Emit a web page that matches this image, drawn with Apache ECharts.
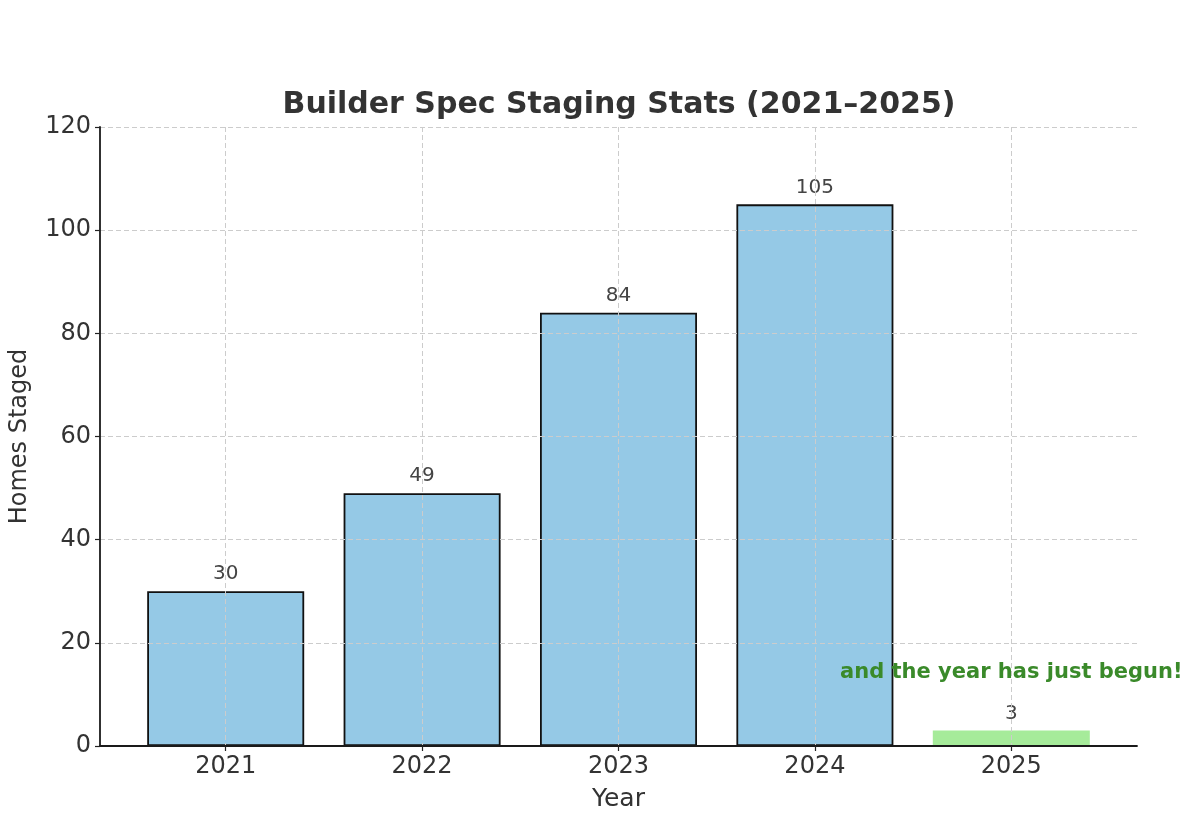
<!DOCTYPE html>
<html><head><meta charset="utf-8">
<script src="https://cdn.jsdelivr.net/npm/echarts@6/dist/echarts.min.js"></script>
<style>html,body{margin:0;padding:0;background:#fff}#c{width:1200px;height:839px}</style>
</head><body><div id="c"></div>
<script>
const years = ['2021','2022','2023','2024','2025'];
const homesStaged = [30, 49, 84, 105, 3];
const yTicks = [0, 20, 40, 60, 80, 100, 120];
const noteText = 'and the year has just begun!';
const noteYear = '2025';
const noteValue = 14.3;

const F = 'DejaVu Sans';
const idx = years.map((_, i) => i);
const chart = echarts.init(document.getElementById('c'));
chart.setOption({
  backgroundColor: '#fff',
  animation: false,
  title: {
    text: 'Builder Spec Staging Stats (2021–2025)',
    left: 614, top: 85, textAlign: 'center',
    textStyle: {fontFamily: F, fontSize: 30, fontWeight: 'bold', color: '#333'}
  },
  grid: {left: 100, right: 63, top: 127, bottom: 93},
  xAxis: {
    type: 'value', min: -0.64, max: 4.64, z: 10,
    name: 'Year', nameLocation: 'middle', nameGap: 41,
    nameTextStyle: {fontFamily: F, fontSize: 25, color: '#333'},
    axisLine: {show: true, onZero: false, lineStyle: {color: '#1a1a1a', width: 1.8}},
    axisTick: {show: true, length: 5, customValues: idx, lineStyle: {color: '#222', width: 1.2}},
    axisLabel: {customValues: idx, formatter: v => years[Math.round(v)], fontFamily: F, fontSize: 24, color: '#333', margin: 9},
    splitLine: {show: true, lineStyle: {color: '#ccc', type: [5, 3], width: 1}}
  },
  yAxis: {
    type: 'value', min: 0, max: 120, interval: 20, z: 10,
    name: 'Homes Staged', nameLocation: 'middle', nameGap: 68, nameRotate: 90,
    nameTextStyle: {fontFamily: F, fontSize: 24, color: '#333'},
    axisLine: {show: true, onZero: false, lineStyle: {color: '#1a1a1a', width: 1.8}},
    axisTick: {show: true, length: 5, lineStyle: {color: '#222', width: 1.2}},
    axisLabel: {fontFamily: F, fontSize: 24, color: '#333', margin: 9,
      formatter: v => yTicks.includes(v) ? String(v) : ''},
    splitLine: {show: true, lineStyle: {color: '#ccc', type: [5, 3], width: 1}}
  },
  series: [{
    type: 'bar',
    barWidth: 157,
    z: 2,
    data: homesStaged.map((v, i) => {
      const last = i === years.length - 1;
      return {
        value: [i, v],
        itemStyle: last ? {color: '#a6eb9a', borderWidth: 0}
                        : {color: '#95c9e6', borderColor: '#111', borderWidth: 1.8}
      };
    }),
    label: {show: true, position: 'top', distance: 7, fontFamily: F, fontSize: 20, color: '#444',
      formatter: p => String(p.value[1])}
  }, {
    type: 'scatter',
    symbolSize: 0,
    itemStyle: {color: '#3a8a2a', opacity: 1},
    z: 20,
    silent: true,
    data: [[years.indexOf(noteYear), noteValue]],
    label: {show: true, position: 'inside', formatter: noteText, opacity: 1,
      textBorderWidth: 0, fontFamily: F, fontSize: 21, fontWeight: 'bold', color: '#3a8a2a'}
  }]
});
</script></body></html>
